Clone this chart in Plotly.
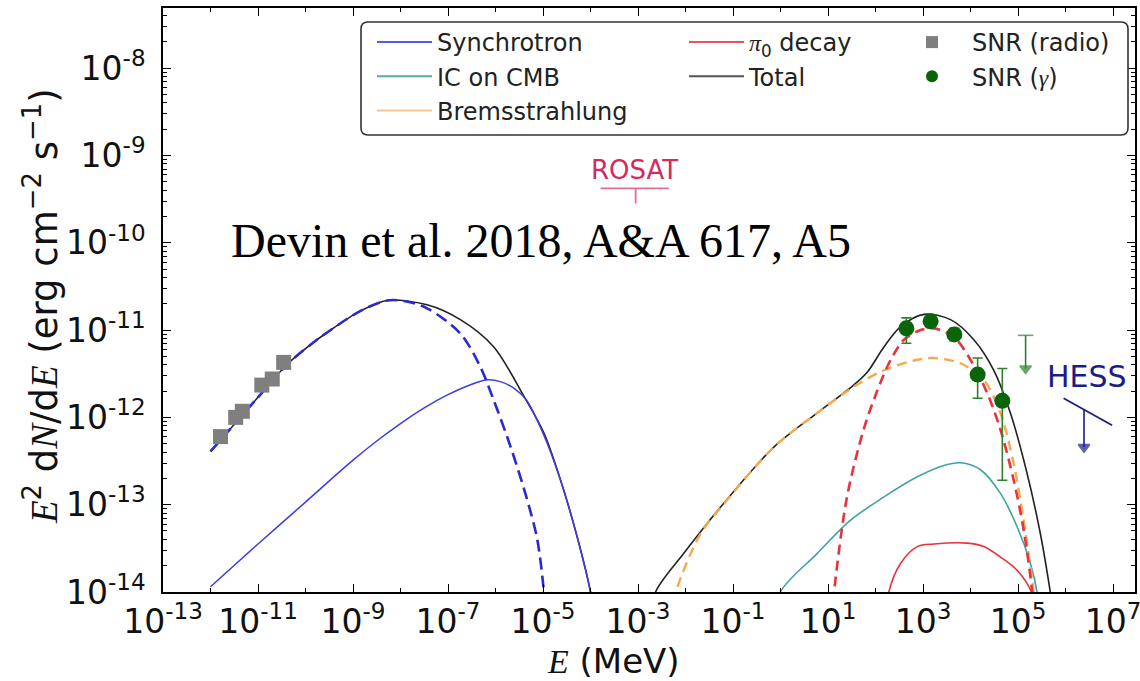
import numpy as np
import plotly.graph_objects as go

# ---------------- data ----------------
# energies: log10(E / MeV); fluxes: log10(E^2 dN/dE / erg cm^-2 s^-1)

# Synchrotron, main electron population (blue dashed)
sync_dash_logE = [-12.0, -11.0, -10.4, -9.9, -9.5, -8.84, -8.28, -7.9, -7.44, -6.74, -6.32, -6.04, -5.68, -5.33, -5.12, -4.98, -4.94]
sync_dash_logF = [-12.39, -11.77, -11.40, -11.17, -11.01, -10.78, -10.66, -10.67, -10.75, -11.04, -11.42, -11.80, -12.34, -12.95, -13.40, -14.0, -14.3]

# Synchrotron, second population (blue solid)
sync_solid_logE = [-12.0, -11.0, -10.0, -9.0, -8.5, -8.0, -7.5, -7.0, -6.5, -6.17, -5.9, -5.6, -5.35, -5.0, -4.63, -4.28, -4.0, -3.92]
sync_solid_logF = [-13.94, -13.45, -12.97, -12.49, -12.27, -12.07, -11.89, -11.74, -11.62, -11.57, -11.59, -11.67, -11.80, -12.18, -12.72, -13.37, -14.0, -14.3]

# Total (black), low-energy hump
total_low_logE = [-12.0, -11.0, -10.4, -9.9, -9.5, -8.84, -8.28, -7.44, -6.74, -6.04, -5.40, -4.98, -4.63, -4.28, -4.0, -3.92]
total_low_logF = [-12.39, -11.77, -11.40, -11.17, -11.01, -10.78, -10.66, -10.71, -10.88, -11.19, -11.76, -12.18, -12.72, -13.37, -14.0, -14.3]

# Total (black), high-energy hump
total_high_logE = [-2.72, -2.63, -2.04, -1.19, -0.14, 0.77, 1.54, 1.83, 2.18, 2.53, 3.02, 3.58, 4.07, 4.49, 4.84, 5.19, 5.47, 5.68, 5.76]
total_high_logF = [-14.3, -14.0, -13.56, -12.98, -12.34, -11.95, -11.63, -11.48, -11.19, -10.96, -10.82, -10.88, -11.11, -11.46, -11.95, -12.64, -13.33, -14.0, -14.3]

# Bremsstrahlung (orange dashed)
brems_logE = [-2.28, -2.2, -1.68, -1.19, -0.14, 0.77, 1.54, 2.18, 2.88, 3.23, 3.79, 4.28, 4.63, 4.91, 5.12, 5.33, 5.38]
brems_logF = [-14.3, -14.0, -13.33, -12.99, -12.34, -11.95, -11.65, -11.46, -11.34, -11.32, -11.38, -11.57, -11.95, -12.53, -13.18, -14.0, -14.3]

# pi0 decay, main population (red dashed)
pi0_dash_logE = [1.08, 1.14, 1.40, 1.75, 2.04, 2.32, 2.60, 2.95, 3.23, 3.65, 4.0, 4.35, 4.63, 4.91, 5.12, 5.30, 5.34]
pi0_dash_logF = [-14.3, -13.94, -12.91, -12.14, -11.69, -11.34, -11.11, -11.00, -10.98, -11.08, -11.34, -11.72, -12.14, -12.72, -13.29, -14.0, -14.3]

# pi0 decay, second population (red solid)
pi0_solid_logE = [2.22, 2.28, 2.53, 2.88, 3.23, 3.93, 4.28, 4.63, 4.98, 5.28, 5.33]
pi0_solid_logF = [-14.3, -14.0, -13.67, -13.48, -13.45, -13.44, -13.48, -13.60, -13.75, -14.0, -14.3]

# Inverse Compton on CMB (teal)
ic_logE = [-0.06, 0.0, 0.77, 1.47, 2.18, 2.88, 3.44, 3.79, 4.21, 4.63, 4.98, 5.26, 5.40, 5.45]
ic_logF = [-14.3, -14.0, -13.56, -13.18, -12.91, -12.68, -12.55, -12.52, -12.60, -12.87, -13.25, -13.67, -14.0, -14.3]

# SNR radio points (grey squares)
radio_logE = [-11.79, -11.47, -11.33, -10.92, -10.70, -10.46]
radio_logF = [-12.22, -12.00, -11.93, -11.63, -11.56, -11.37]

# SNR gamma points (green) with error-bar ends
gamma_logE = [2.65, 3.16, 3.66, 4.15, 4.67]
gamma_logF = [-10.98, -10.90, -11.05, -11.51, -11.81]
gamma_hi_logF = [-10.86, -10.83, -10.98, -11.32, -11.44]
gamma_lo_logF = [-11.15, -10.97, -11.12, -11.78, -12.72]

# gamma-ray upper limit (green arrow): energy, top, arrow tip
gamma_ul_logE = [5.16, 5.16]
gamma_ul_logF = [-11.06, -11.44]

# HESS upper-limit line and arrow
hess_line_logE = [5.96, 6.98]
hess_line_logF = [-11.78, -12.09]
hess_arrow_logE = [6.39, 6.39]
hess_arrow_logF = [-11.91, -12.34]

# ROSAT upper limit
rosat_line_logE = [-3.79, -2.35]
rosat_line_logF = [-9.376, -9.376]
rosat_tick_logE = [-3.05, -3.05]
rosat_tick_logF = [-9.376, -9.55]

# axis ticks
x_tick_vals = [1e-13, 1e-11, 1e-9, 1e-7, 1e-5, 1e-3, 1e-1, 1e1, 1e3, 1e5, 1e7]
x_tick_text = ["10<sup>-13</sup>", "10<sup>-11</sup>", "10<sup>-9</sup>", "10<sup>-7</sup>",
               "10<sup>-5</sup>", "10<sup>-3</sup>", "10<sup>-1</sup>", "10<sup>1</sup>",
               "10<sup>3</sup>", "10<sup>5</sup>", "10<sup>7</sup>"]
y_tick_vals = [1e-14, 1e-13, 1e-12, 1e-11, 1e-10, 1e-9, 1e-8]
y_tick_text = ["10<sup>-14</sup>", "10<sup>-13</sup>", "10<sup>-12</sup>", "10<sup>-11</sup>",
               "10<sup>-10</sup>", "10<sup>-9</sup>", "10<sup>-8</sup>"]


def lin(values):
    return [10.0 ** v for v in values]


# ---------------- styling ----------------
C_SYNC = "#3c3ce6"
C_SYNC_D = "#2a2ad2"
C_IC = "#3fa3a0"
C_BREMS = "#f5a94e"
C_PI0 = "#e8323c"
C_TOT = "#222222"
C_GREY = "#7f7f7f"
C_GREEN = "#0a640a"
C_GREEN_BAR = "#2f7f2f"
C_HESS = "#1c1c86"
C_ROSAT_T = "#d42a5c"
C_ROSAT_L = "#e0708f"
SERIF = "Liberation Serif"
SANS = "DejaVu Sans"

fig = go.Figure()


def curve(lx, ly, color, width, dash=None):
    fig.add_trace(go.Scatter(
        x=lin(lx), y=lin(ly), mode="lines", showlegend=False, hoverinfo="skip",
        line=dict(color=color, width=width, dash=dash, shape="spline", smoothing=0.9)))


# total first, components over it
curve(total_low_logE, total_low_logF, C_TOT, 1.6)
curve(total_high_logE, total_high_logF, C_TOT, 1.6)
curve(sync_solid_logE, sync_solid_logF, C_SYNC, 1.5)
curve(ic_logE, ic_logF, C_IC, 1.6)
curve(pi0_solid_logE, pi0_solid_logF, C_PI0, 1.6)
curve(brems_logE, brems_logF, C_BREMS, 2.4, "10px,6px")
curve(pi0_dash_logE, pi0_dash_logF, C_PI0, 2.6, "10px,6px")
curve(sync_dash_logE, sync_dash_logF, C_SYNC_D, 2.6, "12px,6px")

# radio data
fig.add_trace(go.Scatter(
    x=lin(radio_logE), y=lin(radio_logF), mode="markers", showlegend=False, hoverinfo="skip",
    marker=dict(symbol="square", size=15, color=C_GREY, line=dict(width=0))))

# gamma data with asymmetric errors
g_y = lin(gamma_logF)
g_plus = [h - y for h, y in zip(lin(gamma_hi_logF), g_y)]
g_minus = [y - l for l, y in zip(lin(gamma_lo_logF), g_y)]
fig.add_trace(go.Scatter(
    x=lin(gamma_logE), y=g_y, mode="markers", showlegend=False, hoverinfo="skip",
    error_y=dict(type="data", symmetric=False, array=g_plus, arrayminus=g_minus,
                 color=C_GREEN_BAR, thickness=1.6, width=5),
    marker=dict(symbol="circle", size=16, color=C_GREEN, line=dict(width=0))))


# upper limits drawn as segment + cap + arrowhead
def upper_limit(lx, ly, color, width, cap=True):
    fig.add_trace(go.Scatter(
        x=lin(lx), y=lin(ly), mode="lines", showlegend=False, hoverinfo="skip",
        line=dict(color=color, width=width)))
    syms = ["line-ew" if cap else "circle", "triangle-down"]
    fig.add_trace(go.Scatter(
        x=lin(lx), y=lin(ly), mode="markers", showlegend=False, hoverinfo="skip",
        marker=dict(symbol=syms, size=[11 if cap else 0, 10], color=color,
                    line=dict(color=color, width=1.6))))


upper_limit(gamma_ul_logE, gamma_ul_logF, C_GREEN_BAR, 1.6)
fig.add_trace(go.Scatter(
    x=lin(hess_line_logE), y=lin(hess_line_logF), mode="lines", showlegend=False,
    hoverinfo="skip", line=dict(color=C_HESS, width=1.8)))
upper_limit(hess_arrow_logE, hess_arrow_logF, C_HESS, 1.6, cap=False)

fig.add_trace(go.Scatter(
    x=lin(rosat_line_logE), y=lin(rosat_line_logF), mode="lines", showlegend=False,
    hoverinfo="skip", line=dict(color=C_ROSAT_L, width=1.8)))
fig.add_trace(go.Scatter(
    x=lin(rosat_tick_logE), y=lin(rosat_tick_logF), mode="lines", showlegend=False,
    hoverinfo="skip", line=dict(color=C_ROSAT_L, width=1.8)))


# ---------------- legend proxies ----------------
def proxy(name, legend, **kw):
    fig.add_trace(go.Scatter(x=[None], y=[None], name=name, legend=legend,
                             hoverinfo="skip", **kw))


def serif_i(s):
    return '<span style="font-family:%s"><i>%s</i></span>' % (SERIF, s)


proxy("Synchrotron", "legend", mode="lines", line=dict(color="#5a5ae0", width=2))
proxy("IC on CMB", "legend", mode="lines", line=dict(color="#5aa8a8", width=2))
proxy("Bremsstrahlung", "legend", mode="lines", line=dict(color="#f3c795", width=2))
proxy(serif_i("π") + "<sub>0</sub> decay", "legend2", mode="lines", line=dict(color="#e8545c", width=2))
proxy("Total", "legend2", mode="lines", line=dict(color="#555555", width=2))
proxy("SNR (radio)", "legend3", mode="markers",
      marker=dict(symbol="square", size=12, color=C_GREY))
proxy("SNR (" + serif_i("γ") + ")", "legend3", mode="markers",
      marker=dict(symbol="circle", size=12, color=C_GREEN))

# ---------------- layout ----------------
W, H = 1140, 681
ML, MR, MT, MB = 163, 5, 8, 89
PW, PH = W - ML - MR, H - MT - MB


def px_x(p):
    return (p - ML) / PW


def px_y(p):
    return (H - MB - p) / PH


leg_common = dict(bgcolor="rgba(0,0,0,0)", borderwidth=0, xanchor="left", yanchor="top",
                  font=dict(family=SANS, size=24, color="#222222"), orientation="v")
fig.update_layout(
    legend=dict(x=px_x(372), y=px_y(20), itemwidth=55, **leg_common),
    legend2=dict(x=px_x(684), y=px_y(20), itemwidth=55, **leg_common),
    legend3=dict(x=px_x(892), y=px_y(20), itemwidth=70, **leg_common),
)

# legend frame with rounded corners
x0, x1 = px_x(361), px_x(1128)
y0, y1 = px_y(135), px_y(22)
rx, ry = 7 / PW, 7 / PH
frame_path = (f"M{x0+rx},{y0} L{x1-rx},{y0} Q{x1},{y0} {x1},{y0+ry} L{x1},{y1-ry} "
              f"Q{x1},{y1} {x1-rx},{y1} L{x0+rx},{y1} Q{x0},{y1} {x0},{y1-ry} "
              f"L{x0},{y0+ry} Q{x0},{y0} {x0+rx},{y0} Z")
fig.add_shape(type="path", path=frame_path, xref="paper", yref="paper",
              line=dict(color="#333333", width=1.6), fillcolor="rgba(255,255,255,0.9)",
              layer="above")

axis_common = dict(type="log", showgrid=False, zeroline=False, showline=True,
                   linecolor="black", linewidth=1.5, mirror="ticks", ticks="inside",
                   ticklen=8, tickwidth=1.3, tickcolor="black", automargin=False,
                   tickfont=dict(family=SANS, size=33, color="#111111"),
                   tickmode="array", ticklabeloverflow="allow")

fig.update_xaxes(
    range=[-13, -13 + PW / 47.5], tickvals=x_tick_vals, ticktext=x_tick_text,
    ticklabelstandoff=0,
    minor=dict(ticks="inside", ticklen=4, tickwidth=1.1, tickcolor="black",
               tick0=0, dtick=1, showgrid=False),
    **axis_common)
fig.update_yaxes(
    range=[-14, -14 + PH / 87.3], tickvals=y_tick_vals, ticktext=y_tick_text,
    ticklabelstandoff=9,
    minor=dict(ticks="inside", ticklen=4, tickwidth=1.1, tickcolor="black",
               dtick="D1", showgrid=False),
    **axis_common)

# axis titles
fig.add_annotation(text=serif_i("E") + " (MeV)", xref="paper", yref="paper",
                   x=px_x(613), y=px_y(661), xanchor="center", yanchor="middle",
                   showarrow=False, font=dict(family=SANS, size=34, color="#111111"))
fig.add_annotation(text=serif_i("E") + "<sup>2</sup> d" + serif_i("N") + "/d" + serif_i("E")
                   + " (erg cm<sup>−2</sup> s<sup>−1</sup>)",
                   xref="paper", yref="paper", x=px_x(42), y=px_y(306), textangle=-90,
                   xanchor="center", yanchor="middle", showarrow=False,
                   font=dict(family=SANS, size=37, color="#111111"))

fig.add_annotation(text="Devin et al. 2018, A&A 617, A5", xref="paper", yref="paper",
                   x=px_x(541), y=px_y(240), xanchor="center", yanchor="middle",
                   showarrow=False, font=dict(family=SERIF, size=48, color="black"))
fig.add_annotation(text="ROSAT", xref="x", yref="y", x=-3.07, y=-9.17,
                   xanchor="center", yanchor="middle", showarrow=False,
                   font=dict(family=SANS, size=26, color=C_ROSAT_T))
fig.add_annotation(text="HESS", xref="x", yref="y", x=6.46, y=-11.53,
                   xanchor="center", yanchor="middle", showarrow=False,
                   font=dict(family=SANS, size=30, color=C_HESS))

fig.update_layout(width=W, height=H, margin=dict(l=ML, r=MR, t=MT, b=MB, autoexpand=False),
                  plot_bgcolor="white", paper_bgcolor="white", showlegend=True)

fig.write_html("out.html", config={"displayModeBar": False},
               post_script="document.body.style.margin='0px';")
